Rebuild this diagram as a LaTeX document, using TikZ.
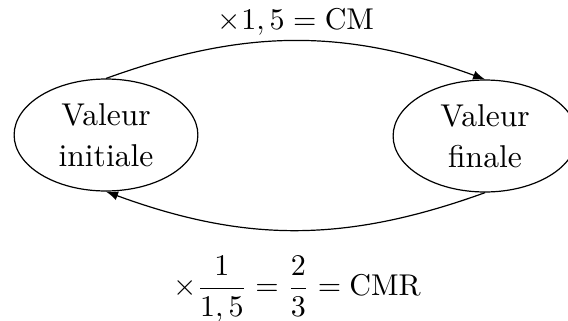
\documentclass[tikz,border=0pt]{standalone}
\usepackage{amsmath}
\usetikzlibrary{shapes.geometric,arrows}

\begin{document}
\begin{tikzpicture}[scale=1.17,>=latex]
    \useasboundingbox (0,0) rectangle (5.68,-3.20);
    \tikzset{valeur/.style={draw,ellipse,align=center,minimum width=2.15cm,minimum height=1.31cm,inner sep=0pt,font=\fontsize{10.5}{13.7}\selectfont}}
    \node[valeur](vi)at (1.06,-1.35){Valeur\\initiale};
    \node[valeur](vf)at (4.85,-1.36){Valeur\\finale};
    \draw[->](vi.north) to[bend left=20] (vf.north);
    \draw[->](vf.south) to[bend left=20] (vi.south);
    \node(cm)at (2.96,-0.22){$\times 1,5=\text{CM}$};
    \node(cmr)at (2.97,-2.89){$\times\dfrac{1}{1,5}=\dfrac{2}{3}=\text{CMR}$};
\end{tikzpicture}
\end{document}
